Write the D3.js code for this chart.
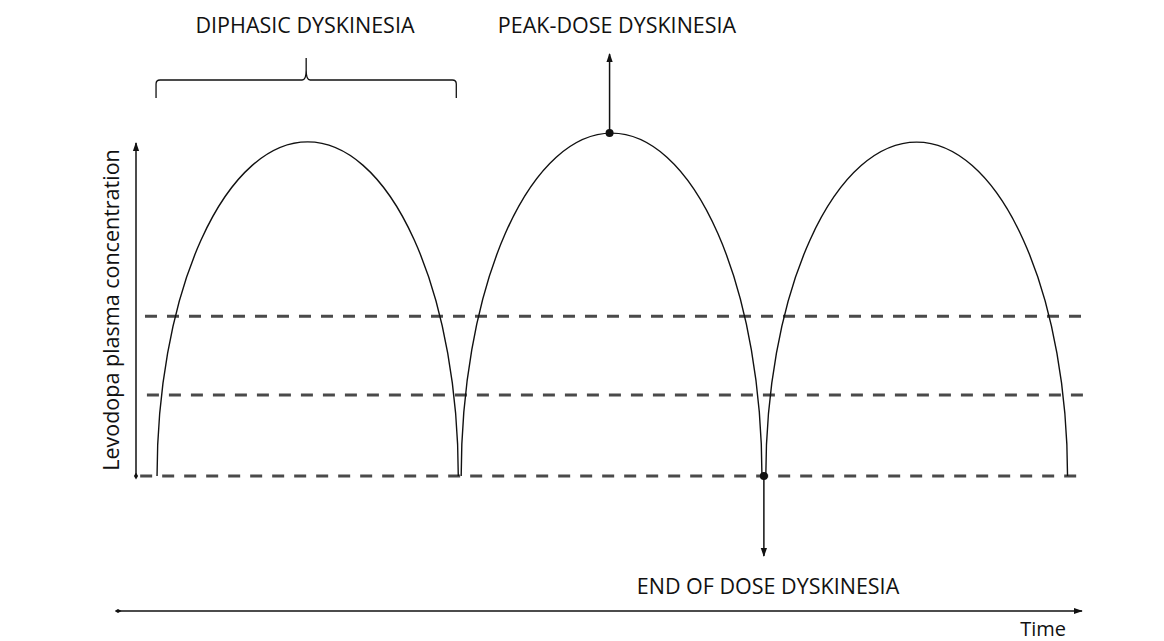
<!DOCTYPE html>
<html>
<head>
<meta charset="utf-8">
<script src="https://cdn.jsdelivr.net/npm/d3@7"></script>
<style>
  body { margin: 0; background: #fff; }
  svg { display: block; font-family: "Open Sans", "Noto Sans", sans-serif; }
</style>
</head>
<body>
<svg id="chart" width="1164" height="641"></svg>
<script>
// doses: start / end of each levodopa curve (time units) and peak concentration
const doseStart = [4.05, 35.6, 67.2]
const doseEnd = [35.3, 66.8, 98.5]
const dosePeak = [97.4, 100, 97.4]

// threshold levels drawn as dashed lines (concentration units)
const thresholds = [46.6, 23.6, 0]
const thresholdStart = [2.8, 3.0, 2.3]
const thresholdEnd = [100.2, 100.2, 99.6]

// annotations
const labels = ["DIPHASIC DYSKINESIA", "PEAK-DOSE DYSKINESIA", "END OF DOSE DYSKINESIA"]
const yLabel = "Levodopa plasma concentration"
const xLabel = "Time"

let svg = d3.select('#chart')
let x = d3.scaleLinear().domain([0, 100]).range([118, 1082])
let y = d3.scaleLinear().domain([0, 100]).range([476, 133])

let defs = svg.append('defs')
defs.append('marker')
    .attr('id', 'arrow')
    .attr('viewBox', '0 0 10 10')
    .attr('refX', 9).attr('refY', 5)
    .attr('markerWidth', 9).attr('markerHeight', 9)
    .attr('markerUnits', 'userSpaceOnUse')
    .attr('orient', 'auto')
    .append('path').attr('d', 'M0,1.5 L10,5 L0,8.5 Z').attr('fill', '#111')
defs.append('marker')
    .attr('id', 'diamond')
    .attr('viewBox', '0 0 10 10')
    .attr('refX', 5).attr('refY', 5)
    .attr('markerWidth', 7).attr('markerHeight', 7)
    .attr('markerUnits', 'userSpaceOnUse')
    .attr('orient', 'auto')
    .append('path').attr('d', 'M0,5 L5,2 L10,5 L5,8 Z').attr('fill', '#111')

// dashed threshold lines
svg.append('g')
    .selectAll('line')
    .data(thresholds)
    .enter()
    .append('line')
    .attr('x1', function (d, i) { return x(thresholdStart[i]) })
    .attr('x2', function (d, i) { return x(thresholdEnd[i]) })
    .attr('y1', function (d) { return y(d) })
    .attr('y2', function (d) { return y(d) })
    .attr('stroke', '#4a4a4a')
    .attr('stroke-width', 3)
    .attr('stroke-dasharray', '12,10')

// y axis (arrow up, diamond at origin)
svg.append('line')
    .attr('x1', 136).attr('x2', 136)
    .attr('y1', y(0)).attr('y2', 143)
    .attr('stroke', '#111').attr('stroke-width', 1.5)
    .attr('marker-start', 'url(#diamond)')
    .attr('marker-end', 'url(#arrow)')

// time axis
svg.append('line')
    .attr('x1', x(0)).attr('x2', x(100))
    .attr('y1', 611).attr('y2', 611)
    .attr('stroke', '#111').attr('stroke-width', 1.5)
    .attr('marker-start', 'url(#diamond)')
    .attr('marker-end', 'url(#arrow)')

// dose curves (half ellipses from start to end)
svg.append('g')
    .selectAll('path')
    .data(doseStart)
    .enter()
    .append('path')
    .attr('d', function (d, i) {
        let x0 = x(d), x1 = x(doseEnd[i])
        let rx = (x1 - x0) / 2, ry = y(0) - y(dosePeak[i])
        return `M${x0},${y(0)} A${rx},${ry} 0 0 1 ${x1},${y(0)}`
    })
    .attr('fill', 'none')
    .attr('stroke', '#111')
    .attr('stroke-width', 1.4)

// diphasic brace over first dose
let b0 = x(doseStart[0]) - 1, b1 = x(doseEnd[0]) - 2
let bm = (b0 + b1) / 2
svg.append('path')
    .attr('d', `M${b0},98 L${b0},84 Q${b0},80 ${b0 + 4},80 L${bm - 4},80 Q${bm},80 ${bm},70 L${bm},58
                M${bm},70 Q${bm},80 ${bm + 4},80 L${b1 - 4},80 Q${b1},80 ${b1},84 L${b1},98`)
    .attr('fill', 'none')
    .attr('stroke', '#111')
    .attr('stroke-width', 1.3)

// peak-dose arrow
let px = (x(doseStart[1]) + x(doseEnd[1])) / 2 - 2
svg.append('circle').attr('cx', px).attr('cy', y(dosePeak[1])).attr('r', 4).attr('fill', '#111')
svg.append('line')
    .attr('x1', px).attr('x2', px)
    .attr('y1', y(dosePeak[1])).attr('y2', 54)
    .attr('stroke', '#111').attr('stroke-width', 1.5)
    .attr('marker-end', 'url(#arrow)')

// end-of-dose arrow
let ex = (x(doseEnd[1]) + x(doseStart[2])) / 2
svg.append('circle').attr('cx', ex).attr('cy', y(0)).attr('r', 4).attr('fill', '#111')
svg.append('line')
    .attr('x1', ex).attr('x2', ex)
    .attr('y1', y(0)).attr('y2', 556)
    .attr('stroke', '#111').attr('stroke-width', 1.5)
    .attr('marker-end', 'url(#arrow)')

// labels
let labelPos = [[305, 33], [617, 33], [768, 594]]
svg.append('g')
    .selectAll('text')
    .data(labels)
    .enter()
    .append('text')
    .attr('x', function (d, i) { return labelPos[i][0] })
    .attr('y', function (d, i) { return labelPos[i][1] })
    .attr('text-anchor', 'middle')
    .attr('font-size', 21.5)
    .attr('fill', '#111')
    .text(function (d) { return d })

svg.append('text')
    .attr('transform', 'translate(110,310) rotate(-90)')
    .attr('text-anchor', 'middle')
    .attr('dominant-baseline', 'central')
    .attr('font-size', 21.5)
    .attr('fill', '#111')
    .text(yLabel)

svg.append('text')
    .attr('x', 1066).attr('y', 636)
    .attr('text-anchor', 'end')
    .attr('font-size', 20)
    .attr('fill', '#111')
    .text(xLabel)
</script>
</body>
</html>
